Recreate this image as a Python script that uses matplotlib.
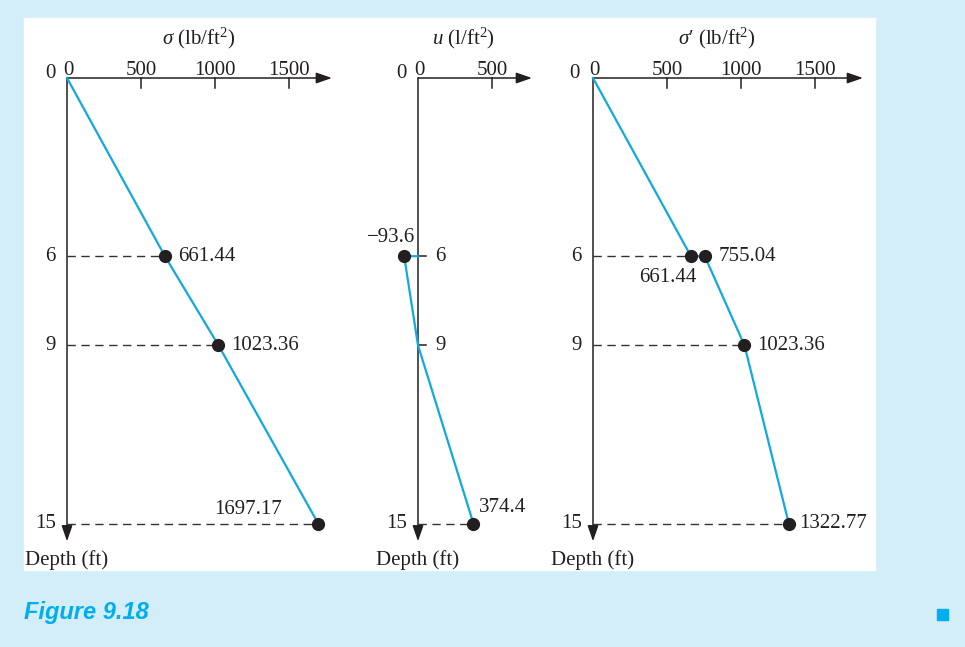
import matplotlib
matplotlib.use("Agg")
from matplotlib import pyplot as plt
from matplotlib.patches import Rectangle

# depth (ft) and stresses (lb/ft^2)
depth_marks = [0, 6, 9, 15]

sigma_depth = [0, 6, 9, 15]
sigma_vals = [0, 661.44, 1023.36, 1697.17]

u_depth = [6, 6, 9, 15]
u_vals = [0, -93.6, 0, 374.4]

eff_depth = [0, 6, 6, 9, 15]
eff_vals = [0, 661.44, 755.04, 1023.36, 1322.77]

x_ticks_wide = [0, 500, 1000, 1500]
x_ticks_narrow = [0, 500]

BG = "#d3edf9"
BLUE = "#12a8e0"
INK = "#231f20"
W, H = 965, 647
SX, SY, OY = 0.148, 29.7, 78  # px per unit, px per ft, origin row
YMIN, YMAX = -2.5, 17.5

plt.rcParams["font.family"] = ["Liberation Serif", "DejaVu Serif"]
plt.rcParams["font.size"] = 15
plt.rcParams["mathtext.fontset"] = "custom"
plt.rcParams["mathtext.rm"] = "Liberation Serif"
plt.rcParams["mathtext.it"] = "Liberation Serif:italic"

fig = plt.figure(figsize=(W / 100, H / 100), dpi=100, facecolor=BG)
fig.patches.append(Rectangle((24 / W, 1 - 570 / H), (875 - 24) / W, (570 - 18) / H,
                             transform=fig.transFigure, color="white", zorder=-10))


def panel(ox, xmin, xmax):
    top_px = OY + YMIN * SY
    bot_px = OY + YMAX * SY
    ax = fig.add_axes([(ox + xmin * SX) / W, 1 - bot_px / H,
                       (xmax - xmin) * SX / W, (bot_px - top_px) / H])
    ax.set_xlim(xmin, xmax)
    ax.set_ylim(YMAX, YMIN)
    ax.axis("off")
    ax.patch.set_alpha(0)
    return ax


def lab(ax, text, x, y, dx=0, dy=0, ha="left", va="center"):
    ax.annotate(text, xy=(x, y), xytext=(dx, dy), textcoords="offset pixels",
                ha=ha, va=va, color=INK, annotation_clip=False)


def axes_frame(ax, x_tip, ticks, title, title_x):
    arrow = dict(arrowstyle="-|>,head_length=0.95,head_width=0.33", lw=1.1,
                 color=INK, shrinkA=0, shrinkB=0, mutation_scale=10)
    ax.annotate("", xy=(x_tip, 0), xytext=(0, 0), arrowprops=arrow,
                annotation_clip=False)
    ax.annotate("", xy=(0, 15.6), xytext=(0, 0), arrowprops=arrow,
                annotation_clip=False)
    for t in ticks:
        if t != 0:
            ax.plot([t, t], [0, 0.33], color=INK, lw=1.1, clip_on=False)
        lab(ax, str(t), t, 0, dx=1 if t == 0 else 0, dy=3, ha="center", va="baseline")
    lab(ax, "Depth (ft)", 0, 16.4, ha="center", va="baseline")
    ax.text(title_x, -1.12, title, ha="center", va="baseline", color=INK)


# sigma
ax1 = panel(67, -320, 1950)
axes_frame(ax1, 1790, x_ticks_wide, r"$\sigma$ (lb/ft$^2$)", 890)
for d, v in zip(sigma_depth[1:], sigma_vals[1:]):
    ax1.plot([0, v], [d, d], color="#333333", lw=1, dashes=(6, 4), clip_on=False)
ax1.plot(sigma_vals, sigma_depth, color=BLUE, lw=1.6, clip_on=False, zorder=3)
ax1.plot(sigma_vals[1:], sigma_depth[1:], "o", color=INK, ms=8.5, clip_on=False, zorder=4)
lab(ax1, "0", 0, 0, dx=-11, dy=0, ha="right", va="baseline")
for d in depth_marks[1:]:
    lab(ax1, str(d), 0, d, dx=-11, ha="right")
lab(ax1, "661.44", sigma_vals[1], 6, dx=13)
lab(ax1, "1023.36", sigma_vals[2], 9, dx=13)
lab(ax1, "1697.17", sigma_vals[3], 15, dx=-36, dy=10, ha="right", va="baseline")

# pore pressure
ax2 = panel(418, -320, 900)
axes_frame(ax2, 770, x_ticks_narrow, r"$u$ (l/ft$^2$)", 310)
ax2.plot([0, u_vals[3]], [15, 15], color="#333333", lw=1, dashes=(6, 4), clip_on=False)
ax2.plot(u_vals, u_depth, color=BLUE, lw=1.6, clip_on=False, zorder=3)
ax2.plot([u_vals[1], u_vals[3]], [u_depth[1], u_depth[3]], "o", color=INK, ms=8.5,
         clip_on=False, zorder=4)
for d in (6, 9):
    ax2.plot([0, 55], [d, d], color=INK, lw=1.1, clip_on=False)
    lab(ax2, str(d), 0, d, dx=17)
lab(ax2, "0", 0, 0, dx=-11, ha="right", va="baseline")
lab(ax2, "15", 0, 15, dx=-11, ha="right")
lab(ax2, "\u221293.6", u_vals[1], 6, dx=-13, dy=9, ha="center", va="bottom")
lab(ax2, "374.4", u_vals[3], 15, dx=6, dy=11, va="baseline")

# effective stress
ax3 = panel(593, -320, 1950)
axes_frame(ax3, 1824, x_ticks_wide, "$\\sigma$\u2032 (lb/ft$^2$)", 840)
for d, v in ((6, 661.44), (9, 1023.36), (15, 1322.77)):
    ax3.plot([0, v], [d, d], color="#333333", lw=1, dashes=(6, 4), clip_on=False)
ax3.plot(eff_vals, eff_depth, color=BLUE, lw=1.6, clip_on=False, zorder=3)
ax3.plot(eff_vals[1:], eff_depth[1:], "o", color=INK, ms=8.5, clip_on=False, zorder=4)
lab(ax3, "0", 0, 0, dx=-13, ha="right", va="baseline")
for d in depth_marks[1:]:
    lab(ax3, str(d), 0, d, dx=-11, ha="right")
lab(ax3, "661.44", eff_vals[1], 6, dx=-23, dy=-12, ha="center", va="top")
lab(ax3, "755.04", eff_vals[2], 6, dx=14)
lab(ax3, "1023.36", eff_vals[3], 9, dx=13)
lab(ax3, "1322.77", eff_vals[4], 15, dx=10)

fig.text(24 / W, 1 - 619 / H, "Figure 9.18", fontfamily="Liberation Sans",
         fontweight="bold", fontstyle="italic", fontsize=17, color="#00aeef",
         va="baseline")
fig.patches.append(Rectangle((937 / W, 1 - 620 / H), 11 / W, 11 / H,
                             transform=fig.transFigure, color="#00aeef"))

fig.savefig("out.png", dpi=100, facecolor=BG)
